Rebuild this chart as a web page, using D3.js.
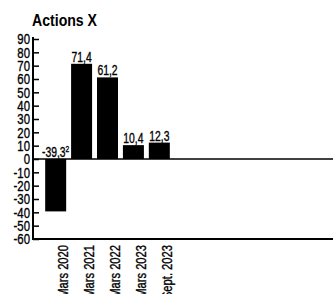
<!DOCTYPE html>
<html lang="fr">
<head>
    <meta charset="UTF-8">
    <title>Actions X</title>
    <script src="https://d3js.org/d3.v7.min.js"></script>
    <style>
        body {
            margin: 0;
            background: #fff;
            font-family: "Liberation Sans", Arial, sans-serif;
        }
        svg text { fill: #000; }
        .thick { stroke: #000; stroke-width: 0.35px; }
    </style>
</head>
<body>
    <svg width="333" height="294"></svg>

    <script>
        // Données
        const categories = ["Mars 2020", "Mars 2021", "Mars 2022", "Mars 2023", "Sept. 2023"];
        const values = [-39.3, 71.4, 61.2, 10.4, 12.3];
        const valueLabels = ["-39,3", "71,4", "61,2", "10,4", "12,3"];
        const notes = ["2", "", "", "", ""];
        const yTicks = [90, 80, 70, 60, 50, 40, 30, 20, 10, 0, -10, -20, -30, -40, -50, -60];

        const width = 333;
        const axisX = 33;

        const svg = d3.select("svg");

        // Titre (police condensée simulée par un scale horizontal)
        svg.append("text")
            .attr("transform", "translate(32,26) scale(0.83,1)")
            .style("font-size", "17px")
            .style("font-weight", "bold")
            .text("Actions X");

        // Échelles
        const y = d3.scaleLinear()
            .domain([-60, 90])
            .range([239, 39]);

        const x = d3.scaleBand()
            .domain(categories)
            .range([40, 175])
            .paddingInner(0.19)
            .paddingOuter(0.2);

        // Barres
        svg.selectAll("rect.bar")
            .data(values)
            .enter()
            .append("rect")
            .attr("class", "bar")
            .attr("x", (d, i) => x(categories[i]))
            .attr("width", x.bandwidth())
            .attr("y", d => y(Math.max(0, d)))
            .attr("height", d => Math.abs(y(d) - y(0)))
            .attr("fill", "#000");

        // Ligne zéro
        svg.append("line")
            .attr("x1", axisX)
            .attr("x2", width)
            .attr("y1", y(0))
            .attr("y2", y(0))
            .attr("stroke", "#000")
            .attr("stroke-width", 1.5);

        // Axe du bas
        svg.append("line")
            .attr("x1", axisX - 1)
            .attr("x2", width)
            .attr("y1", y(-60))
            .attr("y2", y(-60))
            .attr("stroke", "#000")
            .attr("stroke-width", 2);

        // Axe vertical
        const yAxis = svg.append("g")
            .attr("transform", `translate(${axisX},0)`)
            .call(d3.axisRight(y).tickValues(yTicks).tickSize(6).tickFormat(""));
        yAxis.select(".domain")
            .attr("d", `M0,${y(90) - 2}V${y(-60) + 1}`)
            .attr("stroke-width", 2);
        yAxis.selectAll(".tick line").attr("stroke-width", 1.5);

        svg.append("g")
            .selectAll("text")
            .data(yTicks)
            .enter()
            .append("text")
            .attr("class", "thick")
            .attr("transform", d => `translate(30,${y(d)}) scale(0.76,1)`)
            .attr("dy", "0.36em")
            .attr("text-anchor", "end")
            .style("font-size", "15px")
            .text(d => d);

        // Étiquettes de valeur
        const lbl = svg.append("g")
            .selectAll("text")
            .data(values)
            .enter()
            .append("text")
            .attr("class", "thick")
            .attr("transform", (d, i) =>
                `translate(${x(categories[i]) + x.bandwidth() / 2},${y(Math.max(0, d)) - 2}) scale(0.74,1)`)
            .attr("text-anchor", "middle")
            .style("font-size", "14px")
            .text((d, i) => valueLabels[i]);
        lbl.append("tspan")
            .attr("dy", -5)
            .style("font-size", "9px")
            .text((d, i) => notes[i]);

        // Étiquettes des catégories
        svg.append("g")
            .selectAll("text")
            .data(categories)
            .enter()
            .append("text")
            .attr("class", "thick")
            .attr("transform", d => `translate(${x(d) + x.bandwidth() + 2},245) rotate(-90) scale(0.8,1)`)
            .attr("text-anchor", "end")
            .style("font-size", "14px")
            .text(d => d);
    </script>
</body>
</html>
